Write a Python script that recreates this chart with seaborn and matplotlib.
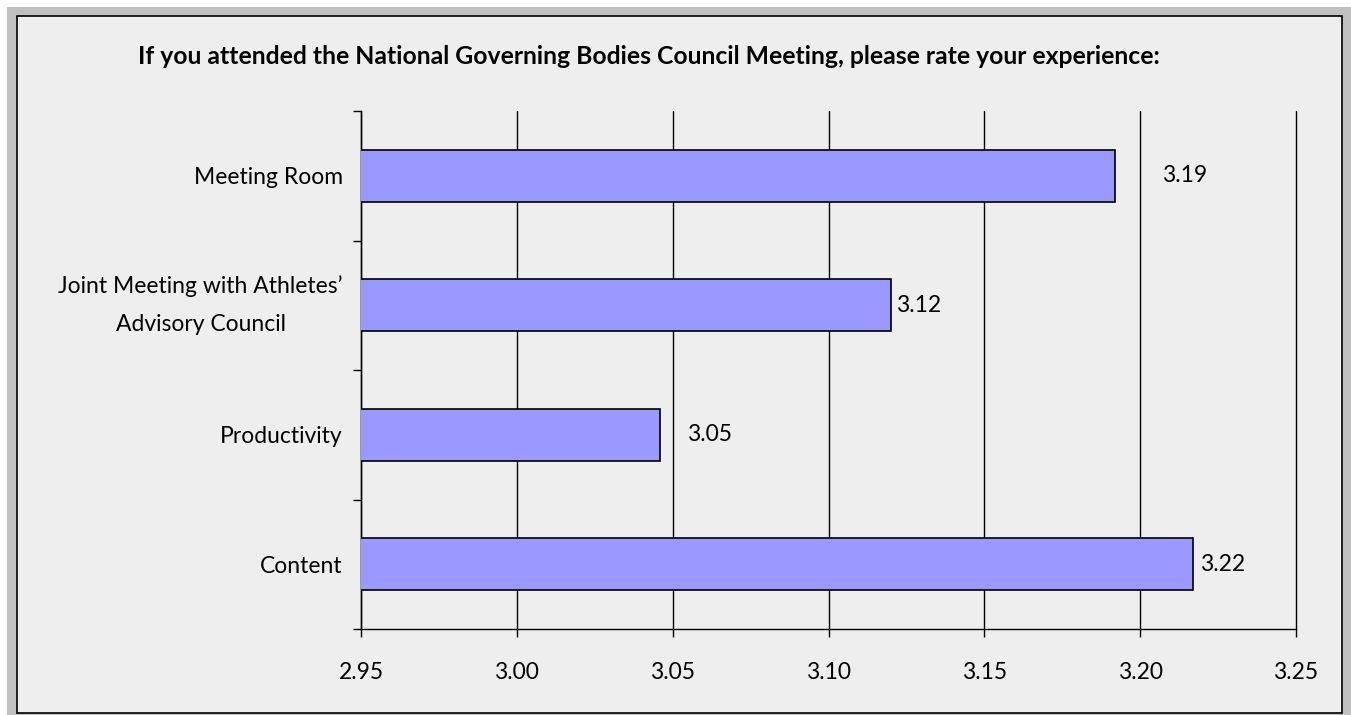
import pandas as pd
import matplotlib.pyplot as plt
import seaborn as sns
from matplotlib.patches import Rectangle
from matplotlib.ticker import FixedLocator

# Survey ratings
categories = ['Meeting Room', 'Joint Meeting with Athletes\u2019\nAdvisory Council',
              'Productivity', 'Content']
ratings = [3.192, 3.120, 3.046, 3.217]
value_labels = ['3.19', '3.12', '3.05', '3.22']
x_ticks = [2.95, 3.00, 3.05, 3.10, 3.15, 3.20, 3.25]

df = pd.DataFrame({'category': categories, 'rating': ratings})

sns.set_style('white')
plt.rcParams['font.family'] = ['Lato', 'DejaVu Sans']
plt.rcParams['text.color'] = 'black'
plt.rcParams['xtick.color'] = 'black'
plt.rcParams['ytick.color'] = 'black'

W, H = 1351, 715
fig = plt.figure(figsize=(W / 100, H / 100), dpi=100, facecolor='white')

# outer gray frame and inner panel with black border
fig.patches.append(Rectangle((7 / W, 0), (W - 7) / W, (H - 7) / H, transform=fig.transFigure,
                             facecolor='#C0C0C0', edgecolor='none', zorder=0))
fig.patches.append(Rectangle((16.5 / W, 1 - 712.5 / H), (1342 - 16.5) / W, (712.5 - 16) / H,
                             transform=fig.transFigure, facecolor='#EEEEEE',
                             edgecolor='black', linewidth=1.2, zorder=1))

ax = fig.add_axes([361 / W, 1 - 629 / H, (1296 - 361) / W, (629 - 111) / H])
ax.set_zorder(5)
ax.set_facecolor('none')

sns.barplot(data=df, x='rating', y='category', orient='h', color='#9999FF',
            edgecolor='black', linewidth=1.2, width=0.4, saturation=1, ax=ax, zorder=3)

ax.set_xlim(2.95, 3.25)
ax.set_ylim(3.5, -0.5)
ax.set_xticks(x_ticks)
ax.set_xticklabels([f'{t:.2f}' for t in x_ticks], fontsize=16.5)
ax.grid(axis='x', color='black', linewidth=1)
ax.set_axisbelow(True)
for gl in ax.get_xgridlines():
    gl.set_clip_on(False)

ax.yaxis.set_minor_locator(FixedLocator([-0.5, 0.5, 1.5, 2.5, 3.5]))
ax.tick_params(axis='y', which='major', length=0, pad=13, labelsize=16.5)
ax.tick_params(axis='y', which='minor', length=6, width=1, color='black', direction='out', left=True)
ax.tick_params(axis='x', length=6, width=1, color='black', direction='out', bottom=True, pad=18)
for lbl in ax.get_yticklabels():
    lbl.set_multialignment('center')
    if '\n' in lbl.get_text():
        lbl.set_linespacing(2.0)
        lbl.set_verticalalignment('center')

for s in ['top', 'right']:
    ax.spines[s].set_visible(False)
for s in ['left', 'bottom']:
    ax.spines[s].set_color('black')
    ax.spines[s].set_linewidth(1)

ax.set_xlabel('')
ax.set_ylabel('')

# value labels (offsets in points, mimicking the original placement)
label_pad = [34, 4, 19, 5]
for i, (v, txt) in enumerate(zip(ratings, value_labels)):
    ax.annotate(txt, (v, i), xytext=(label_pad[i], 0), textcoords='offset points',
                va='center', ha='left', fontsize=16.5)

fig.text(649 / W, 1 - 57 / H,
         'If you attended the National Governing Bodies Council Meeting, please rate your experience:',
         ha='center', va='center', fontsize=17.8, fontweight='bold')

fig.savefig('out.png', dpi=100)
